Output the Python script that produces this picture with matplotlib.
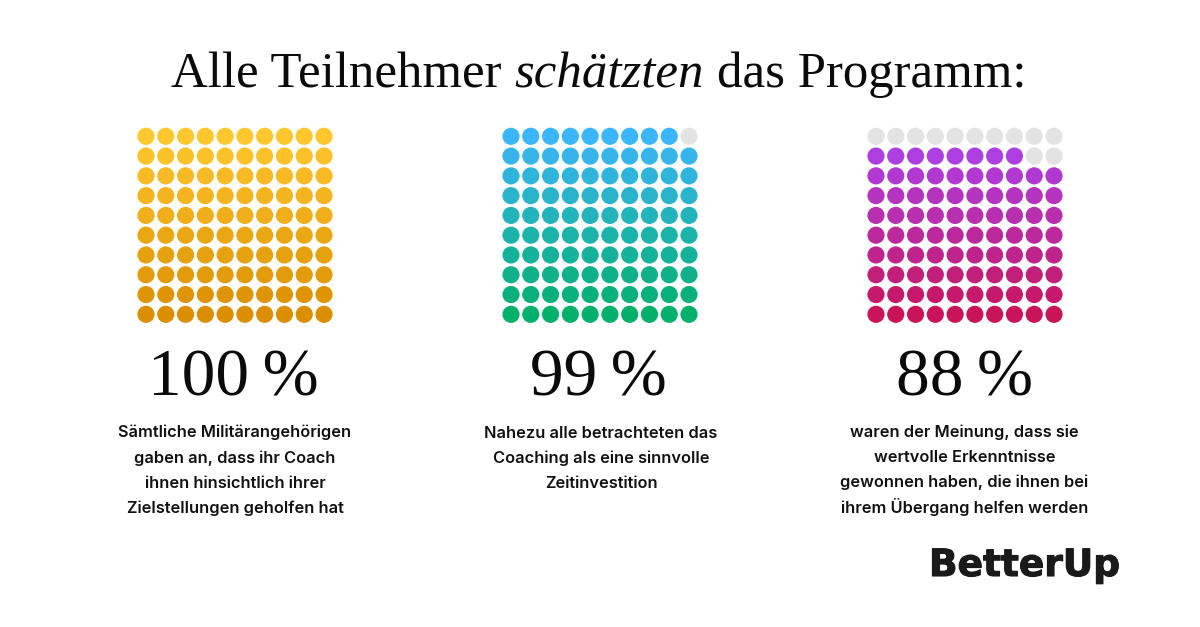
import numpy as np
import matplotlib.pyplot as plt
import matplotlib.patheffects as pe
from matplotlib.colors import LinearSegmentedColormap

# Values
percent = [100, 99, 88]
percent_labels = ["100\u2009%", "99\u2009%", "88\u2009%"]
captions = [
    ["Sämtliche Militärangehörigen", "gaben an, dass ihr Coach",
     "ihnen hinsichtlich ihrer", "Zielstellungen geholfen hat"],
    ["Nahezu alle betrachteten das", "Coaching als eine sinnvolle",
     "Zeitinvestition"],
    ["waren der Meinung, dass sie", "wertvolle Erkenntnisse",
     "gewonnen haben, die ihnen bei", "ihrem Übergang helfen werden"],
]
title_parts = [("Alle Teilnehmer", "normal"), ("schätzten", "italic"), ("das Programm:", "normal")]

# Colours, top row to bottom row
gradients = [("#FFC72E", "#DA8E00"), ("#3CB6FA", "#02B06C"), ("#AA44F2", "#C9145A")]
empty_color = "#E3E3E3"

W, H = 1200, 627
fig = plt.figure(figsize=(W / 100, H / 100), dpi=100)
bg = fig.add_axes([0, 0, 1, 1])
bg.set_xlim(0, W)
bg.set_ylim(H, 0)
bg.axis("off")

serif = "Liberation Serif"
sans = "Inter"
panel_left = [136.1, 501.1, 866.1]
panel_center = [233.5, 598.5, 964]
caption_center = [235, 601, 964.5]
cell = 19.78

# Title, pieces chained from their measured widths
renderer = fig.canvas.get_renderer()
title_size = 36.6
gap = 13
pieces = []
for s, style in title_parts:
    t = bg.text(0, 87, s, family=serif, style=style, fontsize=title_size, color="#0b0b0b",
                va="baseline", ha="left")
    pieces.append((t, t.get_window_extent(renderer).width))
total = sum(w for t, w in pieces) + gap * (len(pieces) - 1)
x = 599 - total / 2
for t, w in pieces:
    t.set_x(x)
    x += w + gap

# Dot grids
for i in range(3):
    ax = fig.add_axes([panel_left[i] / W, 1 - (126.4 + cell * 10) / H, cell * 10 / W, cell * 10 / H])
    ax.set_xlim(-0.5, 9.5)
    ax.set_ylim(-0.5, 9.5)
    ax.axis("off")
    cmap = LinearSegmentedColormap.from_list("g", [gradients[i][1], gradients[i][0]])
    col, row = np.meshgrid(np.arange(10), np.arange(10))
    col, row = col.ravel(), row.ravel()
    colors = [cmap(r / 9) if r * 10 + c < percent[i] else empty_color for r, c in zip(row, col)]
    ax.scatter(col, row, s=153, c=colors, linewidths=0, clip_on=False)

    bg.text(panel_center[i], 396, percent_labels[i], family=serif, fontsize=48.5, color="#0b0b0b",
            ha="center", va="baseline")
    for j, line in enumerate(captions[i]):
        bg.text(caption_center[i], 437.5 + j * 25, line, family=sans, weight="semibold",
                fontsize=11.8, color="#111111", ha="center", va="baseline")

# Logo
logo = bg.text(929, 576, "BetterUp", family="DejaVu Sans", weight="bold", fontsize=27,
               color="#1a1a1a", ha="left", va="baseline")
logo.set_path_effects([pe.withStroke(linewidth=0.8, foreground="#1a1a1a")])

fig.savefig("out.png", dpi=100)
